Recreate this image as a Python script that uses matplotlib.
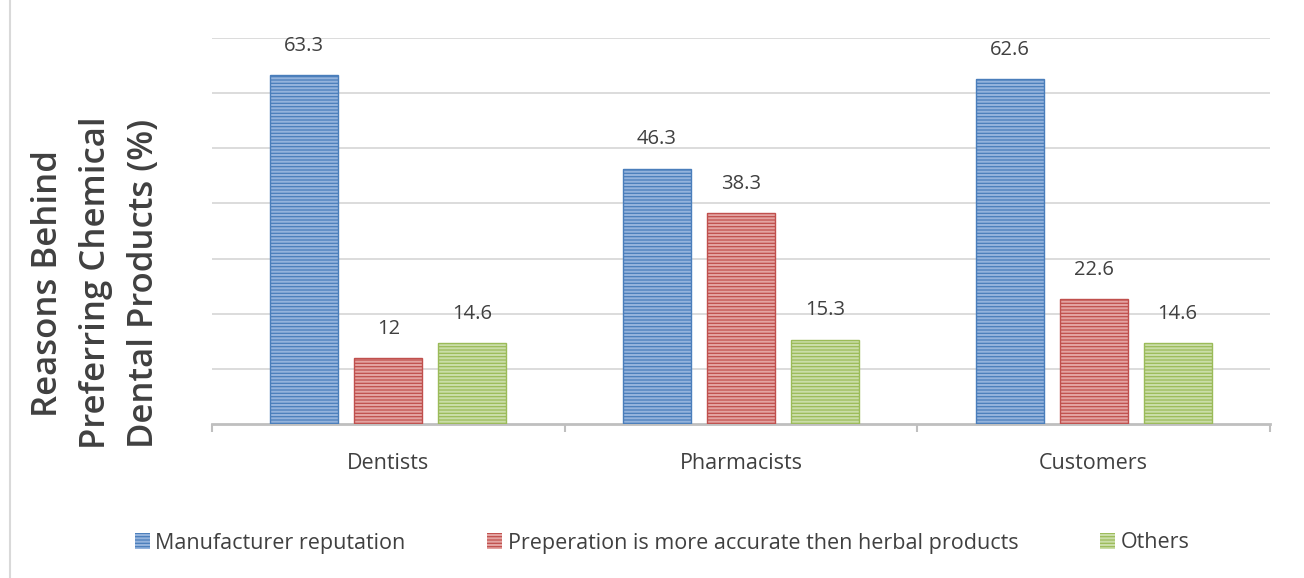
import numpy as np
import matplotlib.pyplot as plt
from matplotlib.lines import Line2D
from matplotlib.patches import Patch

groups = ['Dentists', 'Pharmacists', 'Customers']
series = ['Manufacturer reputation', 'Preperation is more accurate then herbal products', 'Others']
reputation = [63.3, 46.3, 62.6]
accurate = [12, 38.3, 22.6]
others = [14.6, 15.3, 14.6]
label_text = [['63.3', '46.3', '62.6'], ['12', '38.3', '22.6'], ['14.6', '15.3', '14.6']]

fills = ['#4a7ebb', '#c0504d', '#9bbb59']
stripes = ['#94b3dc', '#e3a3a1', '#cadda8']

plt.rcParams['font.family'] = ['Open Sans', 'DejaVu Sans']
plt.rcParams['hatch.linewidth'] = 1.5

fig = plt.figure(figsize=(13.04, 5.78), dpi=100)
ax = fig.add_axes([212 / 1304, 1 - 424 / 578, (1270 - 212) / 1304, (424 - 38) / 578])

x = np.arange(len(groups))
bw = 0.193
step = 0.238
for i, vals in enumerate([reputation, accurate, others]):
    pos = x + (i - 1) * step
    ax.bar(pos, vals, bw, color=fills[i], edgecolor=stripes[i], hatch='-----', linewidth=0, zorder=3)
    ax.bar(pos, vals, bw, fill=False, edgecolor=fills[i], linewidth=1.0, zorder=4)
    for p, v, t in zip(pos, vals, label_text[i]):
        ax.text(p, v + 3.5, t, ha='center', va='bottom', fontsize=14.5, color='#404040')

ax.set_xlim(-0.5, 2.5)
ax.set_ylim(0, 70)
ax.set_yticks(np.arange(10, 71, 10))
ax.yaxis.grid(True, color='#d9d9d9', linewidth=1.3, zorder=0)
ax.tick_params(axis='y', length=0, labelleft=False)
ax.set_xticks([-0.5, 0.5, 1.5, 2.5])
ax.set_xticklabels([])
ax.set_xticks(x, minor=True)
ax.set_xticklabels(groups, minor=True, fontsize=15.5, color='#404040')
ax.tick_params(axis='x', which='major', length=6, color='#bfbfbf', width=1.5)
ax.tick_params(axis='x', which='minor', length=0, pad=21)
for s in ['top', 'right', 'left']:
    ax.spines[s].set_visible(False)
ax.spines['bottom'].set_color('#bfbfbf')
ax.spines['bottom'].set_linewidth(2)

fig.text(96 / 1304, 1 - 283 / 578, 'Reasons Behind\nPreferring Chemical\nDental Products (%)',
         rotation=90, ha='center', va='center', fontsize=25, color='#404040',
         linespacing=1.55, fontweight='semibold')

fig.add_artist(Line2D([10 / 1304, 10 / 1304], [0, 1], color='#d9d9d9', linewidth=1.5))

handles = [Patch(facecolor=fills[i], edgecolor=stripes[i], hatch='-----', linewidth=0) for i in range(3)]
fig.legend(handles, series, loc='center', bbox_to_anchor=(662 / 1304, 1 - 543 / 578), ncol=3,
           frameon=False, fontsize=15.5, handlelength=0.7, handleheight=0.7, handletextpad=0.25,
           columnspacing=3.8, labelcolor='#404040')

fig.savefig('out.png', dpi=100)
